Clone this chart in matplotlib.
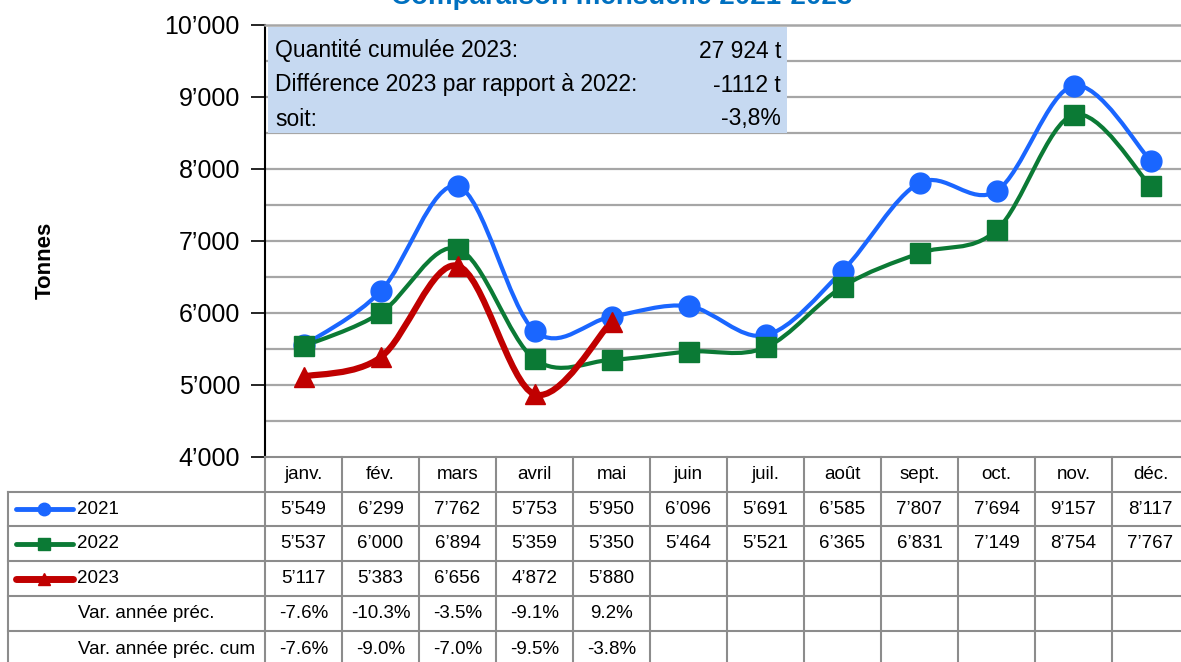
import matplotlib

matplotlib.use("Agg")
import matplotlib.pyplot as plt
import matplotlib.transforms as mtransforms
from matplotlib.path import Path
from matplotlib.patches import PathPatch, Rectangle

plt.rcParams["font.family"] = ["Liberation Sans", "DejaVu Sans"]

months = ["janv.", "fév.", "mars", "avril", "mai", "juin", "juil.", "août",
          "sept.", "oct.", "nov.", "déc."]
t2021 = [5549, 6299, 7762, 5753, 5950, 6096, 5691, 6585, 7807, 7694, 9157, 8117]
t2022 = [5537, 6000, 6894, 5359, 5350, 5464, 5521, 6365, 6831, 7149, 8754, 7767]
t2023 = [5117, 5383, 6656, 4872, 5880]
var_prec = ["-7.6%", "-10.3%", "-3.5%", "-9.1%", "9.2%"]
var_cum = ["-7.6%", "-9.0%", "-7.0%", "-9.5%", "-3.8%"]
info_labels = ["Quantité cumulée 2023:", "Différence 2023 par rapport à 2022:", "soit:"]
info_values = ["27 924 t", "-1112 t", "-3,8%"]

W, H = 1181, 662
BLUE = "#1a66ff"
GREEN = "#0b7a35"
RED = "#c00000"
GRID = "#a6a6a6"
TABLE = "#8c8c8c"


def fx(px):
    return px / W


def fy(py):
    return 1 - py / H


def fmt(v):
    return f"{v:,}".replace(",", "\u2019")


def smooth_path(xs, ys):
    # Excel-like smoothed line: cubic bezier segments through each point
    pts = list(zip(xs, ys))
    verts = [pts[0]]
    codes = [Path.MOVETO]
    n = len(pts)
    for i in range(n - 1):
        p0 = pts[i - 1] if i > 0 else pts[i]
        p1 = pts[i]
        p2 = pts[i + 1]
        p3 = pts[i + 2] if i + 2 < n else pts[i + 1]
        c1 = (p1[0] + (p2[0] - p0[0]) / 6, p1[1] + (p2[1] - p0[1]) / 6)
        c2 = (p2[0] - (p3[0] - p1[0]) / 6, p2[1] - (p3[1] - p1[1]) / 6)
        verts += [c1, c2, p2]
        codes += [Path.CURVE4] * 3
    return Path(verts, codes)


fig = plt.figure(figsize=(W / 100, H / 100), dpi=100)
ax = fig.add_axes([fx(265), fy(457), 924 / W, (457 - 25) / H])
ax.set_xlim(-0.5, 11.5)
ax.set_ylim(4000, 10000)

for v in range(4500, 10000, 500):
    ax.axhline(v, color=GRID, lw=1.6, zorder=1)

ax.set_yticks(range(4000, 10001, 1000))
ax.set_yticklabels([fmt(v) for v in range(4000, 10001, 1000)], fontsize=18)
ax.tick_params(axis="y", length=10, width=1.2, direction="out", pad=8)
ax.set_xticks([])
ax.spines["left"].set_color("black")
ax.spines["left"].set_linewidth(1.5)
ax.spines["top"].set_color(GRID)
ax.spines["top"].set_linewidth(1.8)
ax.spines["bottom"].set_color(TABLE)
ax.spines["bottom"].set_linewidth(1.5)
ax.spines["right"].set_visible(False)

series = [
    (t2021, BLUE, "o", 15, 3.0),
    (t2022, GREEN, "s", 14, 3.0),
    (t2023, RED, "^", 14, 4.5),
]
for vals, col, mk, ms, lw in series:
    xs = list(range(len(vals)))
    ax.add_patch(PathPatch(smooth_path(xs, vals), fill=False, edgecolor=col,
                           lw=lw, zorder=3, capstyle="round"))
    ax.plot(xs, vals, linestyle="none", marker=mk, ms=ms, color=col, zorder=4)

ax.set_ylabel("Tonnes", fontsize=16, fontweight="bold", labelpad=0)
ax.yaxis.set_label_coords(-(265 - 56) / 924, (457 - 260) / 432)

# info box
ax.add_patch(Rectangle((fx(268), fy(133)), fx(787) - fx(268), fy(27) - fy(133),
                       transform=fig.transFigure, facecolor="#c6d9f1",
                       edgecolor="none", zorder=5))
for i, (lab, val) in enumerate(zip(info_labels, info_values)):
    y = fy(51 + i * 34)
    fig.text(fx(275), y, lab, fontsize=16.5, va="center", ha="left", zorder=6)
    fig.text(fx(781), y, val, fontsize=16.5, va="center", ha="right", zorder=6)

# title (cut by the top edge, as in the source)
fig.text(fx(622), fy(4), "Comparaison mensuelle 2021-2023", fontsize=20,
         fontweight="bold", color="#0070c0", ha="center", va="baseline")

# data table under the plot
bt = mtransforms.blended_transform_factory(ax.transData, fig.transFigure)
row_edges = [457, 492, 526, 561, 596, 631, 668]
row_mid = [(a + b) / 2 for a, b in zip(row_edges[:-1], row_edges[1:])]

for py in row_edges[1:-1]:
    fig.add_artist(plt.Line2D([fx(8), 1.01], [fy(py)] * 2, color=TABLE, lw=1.5))
fig.add_artist(plt.Line2D([fx(8)] * 2, [fy(492), 0], color=TABLE, lw=1.5))
for i in range(len(months) + 1):
    fig.add_artist(plt.Line2D([i - 0.5] * 2, [fy(457), 0], transform=bt,
                              color=TABLE, lw=1.5))

for i, m in enumerate(months):
    fig.text(i, fy(row_mid[0]), m, transform=bt, fontsize=13.5, ha="center", va="center")

rows = [
    ("2021", [fmt(v) for v in t2021], BLUE, "o", 9, 3.5),
    ("2022", [fmt(v) for v in t2022], GREEN, "s", 9, 3.5),
    ("2023", [fmt(v) for v in t2023], RED, "^", 9, 5.0),
]
for r, (name, cells, col, mk, ms, lw) in enumerate(rows):
    y = fy(row_mid[r + 1])
    fig.add_artist(plt.Line2D([fx(16), fx(73)], [y, y], color=col, lw=lw,
                              solid_capstyle="round"))
    fig.add_artist(plt.Line2D([fx(44)], [y], color=col, marker=mk, ms=ms,
                              linestyle="none"))
    fig.text(fx(77), y, name, fontsize=13.5, ha="left", va="center")
    for i, c in enumerate(cells):
        fig.text(i, y, c, transform=bt, fontsize=13.5, ha="center", va="center")

for r, (name, cells) in enumerate([("Var. année préc.", var_prec),
                                   ("Var. année préc. cum", var_cum)]):
    y = fy(row_mid[r + 4])
    fig.text(fx(78), y, name, fontsize=13.5, ha="left", va="center")
    for i, c in enumerate(cells):
        fig.text(i, y, c, transform=bt, fontsize=13.5, ha="center", va="center")

fig.savefig("out.png", dpi=100)
